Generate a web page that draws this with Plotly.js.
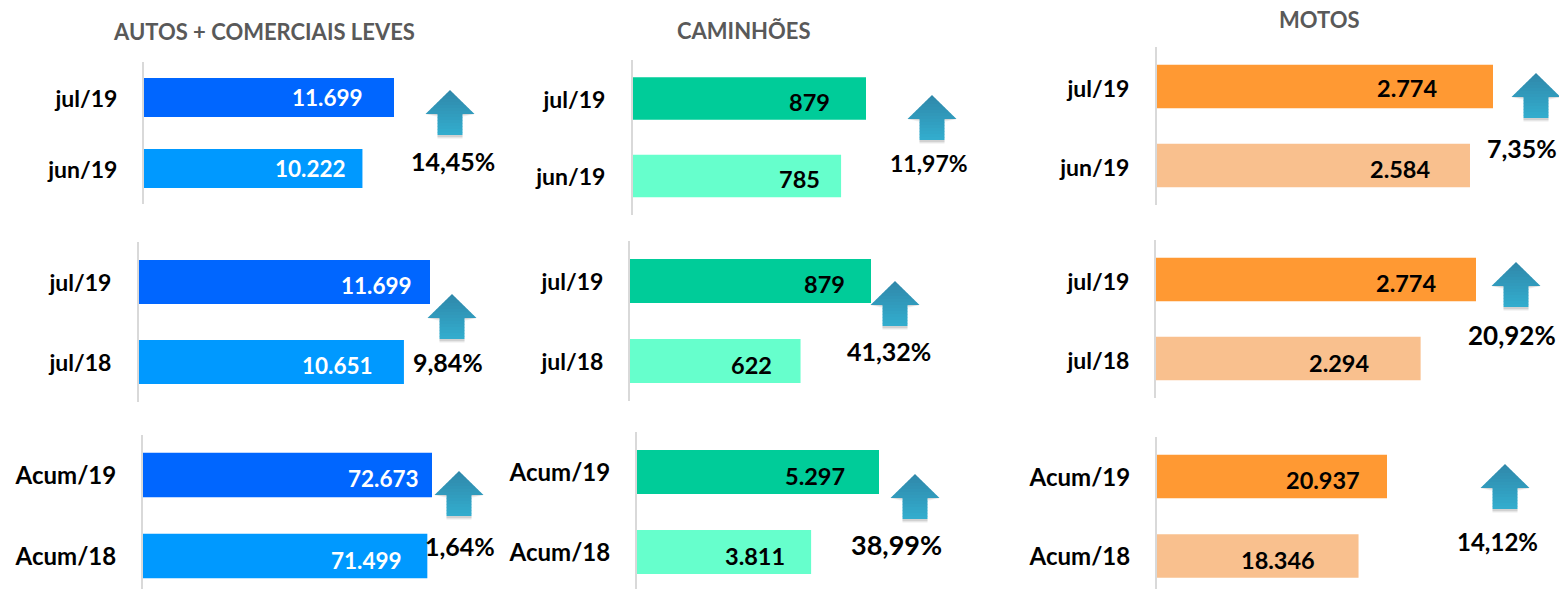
<!DOCTYPE html>
<html><head><meta charset="utf-8">
<script src="https://cdn.plot.ly/plotly-3.0.1.min.js"></script>
<style>html,body{margin:0;padding:0;background:#fff;overflow:hidden}</style>
</head><body><div id="chart" style="width:1559px;height:589px"></div>
<script>
const groupTitles = ['AUTOS + COMERCIAIS LEVES', 'CAMINHÕES', 'MOTOS'];
const cats_monthOnMonth = ['jul/19', 'jun/19'];
const cats_yearOnYear = ['jul/19', 'jul/18'];
const cats_accumulated = ['Acum/19', 'Acum/18'];

const autos_mom = [11699, 10222];
const autos_yoy = [11699, 10651];
const autos_acc = [72673, 71499];
const trucks_mom = [879, 785];
const trucks_yoy = [879, 622];
const trucks_acc = [5297, 3811];
const motos_mom = [2774, 2584];
const motos_yoy = [2774, 2294];
const motos_acc = [20937, 18346];

const changes = ['14,45%', '9,84%', '1,64%', '11,97%', '41,32%', '38,99%', '7,35%', '20,92%', '14,12%'];

const FONT = 'Lato, "Open Sans", sans-serif';
const W = 1559, H = 589;
const colors = [['#0066ff', '#0099ff'], ['#00cc99', '#66ffcc'], ['#ff9933', '#f9c08e']];
const textColors = ['#ffffff', '#000000', '#000000'];
const valueSizes = [22.5, 23.5, 23.5];

// pixel layout of each panel
const panels = [
  {vals: autos_mom,  cats: cats_monthOnMonth, g: 0, ax: 143, right: 394, c: [97.5, 168.5], inset: [31, 16], vs: [0, 0], arrow: [450, 90],  pct: [453, 161], ps: 25, tick: 26, ts: 23, ls: 1},
  {vals: autos_yoy,  cats: cats_yearOnYear,   g: 0, ax: 138, right: 430, c: [282, 362],    inset: [18, 31], vs: [3, 3], arrow: [452, 294], pct: [448, 362], ps: 25, tick: 27, ts: 23, ls: 1},
  {vals: autos_acc,  cats: cats_accumulated,  g: 0, ax: 142, right: 432, c: [475, 556],    inset: [13, 25], vs: [3, 4], arrow: [459, 471], pct: [460, 546], ps: 25, tick: 26, ts: 24, ls: 1},
  {vals: trucks_mom, cats: cats_monthOnMonth, g: 1, ax: 632, right: 866, c: [98.5, 176],   inset: [36, 21], vs: [3, 3], arrow: [932, 95],  pct: [929, 163], ps: 23, tick: 27, ts: 23, ls: 1},
  {vals: trucks_yoy, cats: cats_yearOnYear,   g: 1, ax: 629, right: 871, c: [281, 361],    inset: [26, 29], vs: [3, 4], arrow: [895, 281], pct: [889, 351], ps: 25, tick: 26, ts: 23, ls: 1},
  {vals: trucks_acc, cats: cats_accumulated,  g: 1, ax: 636, right: 879, c: [472, 552],    inset: [34, 26], vs: [4, 4], arrow: [915, 474], pct: [896, 544], ps: 27, tick: 26, ts: 24, ls: 1},
  {vals: motos_mom,  cats: cats_monthOnMonth, g: 2, ax: 1156, right: 1493, c: [86.5, 165.5], inset: [56, 40], vs: [2, 3], arrow: [1536, 73], pct: [1522, 148], ps: 25, tick: 27, ts: 23, ls: 2},
  {vals: motos_yoy,  cats: cats_yearOnYear,   g: 2, ax: 1155, right: 1476, c: [279.5, 358.5], inset: [40, 52], vs: [3, 4], arrow: [1516, 262], pct: [1512, 335], ps: 26, tick: 26, ts: 23, ls: 2},
  {vals: motos_acc,  cats: cats_accumulated,  g: 2, ax: 1156, right: 1387, c: [476.5, 556], inset: [27, 44], vs: [3, 4], arrow: [1505, 464], pct: [1497, 541], ps: 24, tick: 26, ts: 24, ls: 1}
];
const titlePos = [[264, 32], [744, 30], [1319, 20]];

const fmt = v => String(v).replace(/\B(?=(\d{3})+$)/g, '.');
const px = x => x / W, py = y => 1 - y / H;

const traces = [], annotations = [], shapes = [];
const layout = {
  width: W, height: H, margin: {l: 0, r: 0, t: 0, b: 0},
  paper_bgcolor: '#fff', plot_bgcolor: 'rgba(0,0,0,0)',
  showlegend: false, bargap: 0.45, font: {family: FONT},
  annotations, shapes, hovermode: false
};

function arrow(cx, tipY) {
  const headH = 24, bodyH = 21, headW = 24.5, bodyW = 12.5;
  const total = headH + bodyH;
  const top = [47, 136, 170], bot = [51, 175, 208];
  const col = t => 'rgb(' + top.map((c, i) => Math.round(c + (bot[i] - c) * t)).join(',') + ')';
  const add = (path, fill) => shapes.push({type: 'path', xref: 'paper', yref: 'paper', path, fillcolor: fill, line: {width: 0}, layer: 'above'});
  const P = pts => 'M' + pts.map(p => px(p[0]) + ',' + py(p[1])).join('L') + 'Z';
  // soft shadow
  [[4, .05], [3, .08], [2, .12]].forEach(([d, a]) => {
    add(P([[cx - bodyW, tipY + total], [cx + bodyW, tipY + total], [cx + bodyW, tipY + total + d], [cx - bodyW, tipY + total + d]]), 'rgba(60,60,60,' + a + ')');
    add(P([[cx - headW, tipY + headH], [cx - bodyW, tipY + headH], [cx - bodyW, tipY + headH + d - 1], [cx - headW, tipY + headH]]), 'rgba(60,60,60,' + a + ')');
    add(P([[cx + headW, tipY + headH], [cx + bodyW, tipY + headH], [cx + bodyW, tipY + headH + d - 1], [cx + headW, tipY + headH]]), 'rgba(60,60,60,' + a + ')');
  });
  // vertical gradient built from thin bands
  const step = 3;
  for (let y = 0; y < total; y += step) {
    const y2 = Math.min(y + step + 0.4, total);
    const hw = yy => yy <= headH ? headW * yy / headH : bodyW;
    let pts;
    if (y2 <= headH) pts = [[cx - hw(y), tipY + y], [cx + hw(y), tipY + y], [cx + hw(y2), tipY + y2], [cx - hw(y2), tipY + y2]];
    else if (y >= headH) pts = [[cx - bodyW, tipY + y], [cx + bodyW, tipY + y], [cx + bodyW, tipY + y2], [cx - bodyW, tipY + y2]];
    else pts = [[cx - hw(y), tipY + y], [cx + hw(y), tipY + y], [cx + headW, tipY + headH], [cx + bodyW, tipY + headH], [cx + bodyW, tipY + y2], [cx - bodyW, tipY + y2], [cx - bodyW, tipY + headH], [cx - headW, tipY + headH]];
    add(P(pts), col(y / total));
  }
}

panels.forEach((p, i) => {
  const n = i === 0 ? '' : String(i + 1);
  const d = p.c[1] - p.c[0];
  const yTop = p.c[0] - d / 2, yBotFull = p.c[1] + d / 2;
  const yBot = Math.min(yBotFull, H);           // keep the domain inside the page
  const rangeBottom = 1.5 - (yBotFull - yBot) / d;
  traces.push({
    type: 'bar', orientation: 'h', x: p.vals, y: p.cats,
    xaxis: 'x' + n, yaxis: 'y' + n,
    marker: {color: colors[p.g], line: {width: 0}}, hoverinfo: 'skip'
  });
  layout['xaxis' + n] = {
    domain: [px(p.ax + 1), px(p.right)], range: [0, p.vals[0]], anchor: 'y' + n,
    visible: false, fixedrange: true
  };
  layout['yaxis' + n] = {
    domain: [py(yBot), py(yTop)], anchor: 'x' + n, type: 'category',
    categoryorder: 'array', categoryarray: p.cats, range: [rangeBottom, -0.5],
    showline: true, linecolor: '#d9d9d9', linewidth: 2, showgrid: false, zeroline: false,
    ticks: '', ticklabelstandoff: p.tick - 6, ticklabelshift: -p.ls, fixedrange: true,
    tickfont: {family: FONT, size: p.ts, color: '#000', weight: 700}
  };
  p.vals.forEach((v, k) => {
    annotations.push({
      xref: 'x' + n, yref: 'y' + n, x: v, y: p.cats[k], text: '<b>' + fmt(v) + '</b>',
      showarrow: false, xanchor: 'right', yanchor: 'middle', xshift: -p.inset[k] + 2, yshift: -p.vs[k],
      font: {family: FONT, size: valueSizes[p.g], color: textColors[p.g]}
    });
  });
  arrow(p.arrow[0], p.arrow[1]);
  annotations.push({
    xref: 'paper', yref: 'paper', x: px(p.pct[0]), y: py(p.pct[1]), text: '<b>' + changes[i] + '</b>',
    showarrow: false, xanchor: 'center', yanchor: 'middle',
    font: {family: FONT, size: p.ps, color: '#000'}
  });
});

groupTitles.forEach((t, i) => {
  annotations.push({
    xref: 'paper', yref: 'paper', x: px(titlePos[i][0]), y: py(titlePos[i][1]), text: '<b>' + t + '</b>',
    showarrow: false, xanchor: 'center', yanchor: 'middle',
    font: {family: FONT, size: 22, color: '#595959'}
  });
});

Plotly.newPlot('chart', traces, layout, {displayModeBar: false, staticPlot: true});
</script></body></html>
